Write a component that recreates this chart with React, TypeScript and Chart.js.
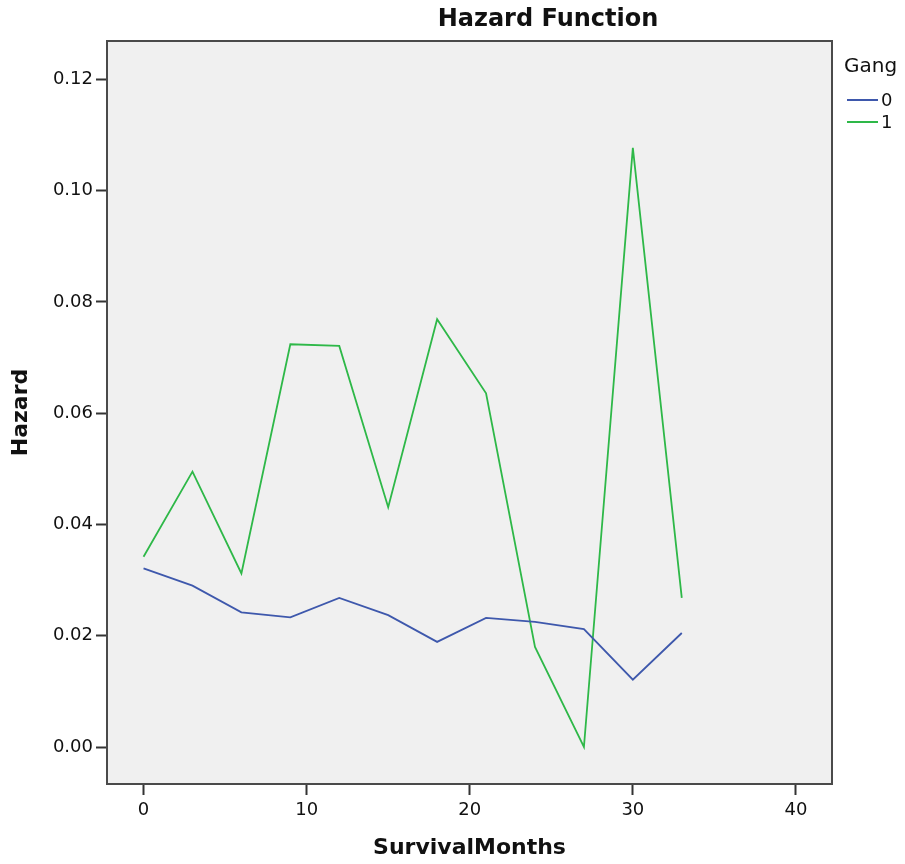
import React, { useEffect, useRef } from 'react';
import { Chart, registerables } from 'chart.js';

Chart.register(...registerables);

const months = [0, 3, 6, 9, 12, 15, 18, 21, 24, 27, 30, 33];
const hazardGang0 = [0.0321, 0.0290, 0.0242, 0.0233, 0.0268, 0.0237, 0.0189, 0.0232, 0.0225, 0.0212, 0.0121, 0.0205];
const hazardGang1 = [0.0342, 0.0495, 0.0312, 0.0724, 0.0721, 0.0431, 0.0769, 0.0636, 0.0180, 0.0000, 0.1077, 0.0268];
const seriesLabels = ['0', '1'];
const seriesColors = ['#3e58ac', '#2eb848'];
const xTickValues = [0, 10, 20, 30, 40];
const yTickValues = [0, 0.02, 0.04, 0.06, 0.08, 0.1, 0.12];
const titleText = 'Hazard Function';
const legendTitle = 'Gang';
const xTitle = 'SurvivalMonths';
const yTitle = 'Hazard';

const FONT = "'DejaVu Sans', sans-serif";

const framePlugin = {
  id: 'frame',
  beforeDraw(chart: any) {
    const { ctx, chartArea } = chart;
    ctx.save();
    ctx.fillStyle = '#ffffff';
    ctx.fillRect(0, 0, chart.width, chart.height);
    ctx.fillStyle = '#f0f0f0';
    ctx.fillRect(chartArea.left, chartArea.top, chartArea.right - chartArea.left, chartArea.bottom - chartArea.top);
    ctx.restore();
  },
  afterDraw(chart: any) {
    const { ctx, chartArea } = chart;
    ctx.save();
    ctx.strokeStyle = '#4a4a4a';
    ctx.lineWidth = 2;
    ctx.strokeRect(chartArea.left, chartArea.top, chartArea.right - chartArea.left, chartArea.bottom - chartArea.top);
    // title
    ctx.fillStyle = '#111111';
    ctx.font = `bold 24px ${FONT}`;
    ctx.textAlign = 'center';
    ctx.textBaseline = 'middle';
    ctx.fillText(titleText, 548, 20);
    // legend
    ctx.font = `20px ${FONT}`;
    ctx.textAlign = 'left';
    ctx.fillText(legendTitle, 844, 67);
    ctx.font = `18px ${FONT}`;
    chart.data.datasets.forEach((ds: any, i: number) => {
      const y = 100 + i * 22;
      ctx.strokeStyle = ds.borderColor;
      ctx.lineWidth = 2;
      ctx.beginPath();
      ctx.moveTo(847, y);
      ctx.lineTo(878, y);
      ctx.stroke();
      ctx.fillStyle = '#111111';
      ctx.fillText(ds.label, 881, y + 1);
    });
    ctx.restore();
  },
};

export default function App() {
  const ref = useRef<HTMLCanvasElement | null>(null);
  useEffect(() => {
    if (!ref.current) return;
    const chart = new Chart(ref.current, {
      type: 'line',
      data: {
        datasets: [
          {
            label: seriesLabels[0],
            data: months.map((m, i) => ({ x: m, y: hazardGang0[i] })),
            borderColor: seriesColors[0],
            borderWidth: 1.8,
            pointRadius: 0,
            tension: 0,
          },
          {
            label: seriesLabels[1],
            data: months.map((m, i) => ({ x: m, y: hazardGang1[i] })),
            borderColor: seriesColors[1],
            borderWidth: 1.8,
            pointRadius: 0,
            tension: 0,
          },
        ],
      },
      options: {
        animation: false,
        responsive: false,
        layout: { padding: { top: 41, right: 73, left: 0, bottom: 0 } },
        plugins: {
          legend: { display: false },
          title: { display: false },
          tooltip: { enabled: false },
        },
        scales: {
          x: {
            type: 'linear',
            min: -2.24,
            max: 42.21,
            afterBuildTicks: (scale: any) => {
              scale.ticks = xTickValues.map((v) => ({ value: v }));
            },
            afterFit: (scale: any) => {
              scale.height = 80;
            },
            grid: { drawOnChartArea: false, drawTicks: true, tickLength: 11, tickColor: '#333333', tickWidth: 2 },
            border: { display: true, color: '#4a4a4a', width: 2 },
            ticks: {
              color: '#111111',
              font: { family: FONT, size: 18 },
              padding: 5,
              maxRotation: 0,
              callback: (v: any) => String(v),
            },
            title: {
              display: true,
              text: xTitle,
              color: '#111111',
              font: { family: FONT, size: 22, weight: 'bold' },
              padding: { top: 0, bottom: 3 },
            },
          },
          y: {
            type: 'linear',
            min: -0.00665,
            max: 0.12692,
            afterBuildTicks: (scale: any) => {
              scale.ticks = yTickValues.map((v) => ({ value: v }));
            },
            afterFit: (scale: any) => {
              scale.width = 107;
            },
            grid: { drawOnChartArea: false, drawTicks: true, tickLength: 11, tickColor: '#333333', tickWidth: 2 },
            border: { display: true, color: '#4a4a4a', width: 2 },
            ticks: {
              color: '#111111',
              font: { family: FONT, size: 18 },
              padding: 3,
              callback: (v: any) => Number(v).toFixed(2),
            },
            title: {
              display: true,
              text: yTitle,
              color: '#111111',
              font: { family: FONT, size: 22, weight: 'bold' },
              padding: { top: 8, bottom: 0 },
            },
          },
        },
      },
      plugins: [framePlugin],
    });
    return () => chart.destroy();
  }, []);
  return (
    <div style={{ position: 'absolute', left: 0, top: 0, width: 905, height: 864 }}>
      <canvas ref={ref} width={905} height={864} style={{ width: 905, height: 864 }} />
    </div>
  );
}
